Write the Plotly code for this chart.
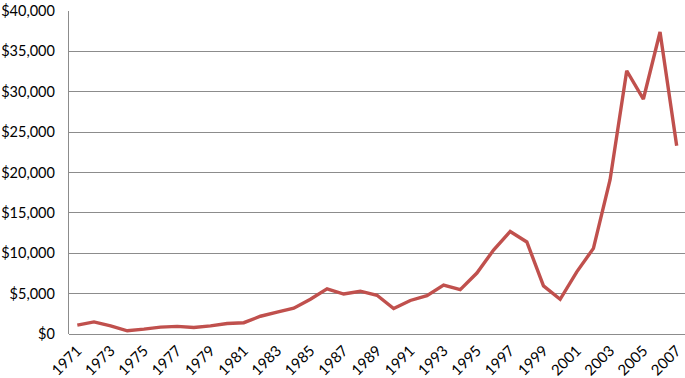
import plotly.graph_objects as go

years = list(range(1971, 2008))
values = [1100, 1500, 1000, 400, 600, 850, 950, 800, 1000, 1300,
          1400, 2200, 2700, 3200, 4300, 5600, 4950, 5300, 4800, 3150,
          4150, 4750, 6050, 5500, 7550, 10400, 12700, 11400, 5950, 4300,
          7700, 10600, 19100, 32600, 29100, 37400, 23300]
tick_years = [y for y in years if (y - 1971) % 2 == 0]
y_ticks = [0, 5000, 10000, 15000, 20000, 25000, 30000, 35000, 40000]
y_labels = ["$0", "$5,000", "$10,000", "$15,000", "$20,000", "$25,000", "$30,000", "$35,000", "$40,000"]

fig = go.Figure(go.Scatter(
    x=[str(y) for y in years], y=values, mode="lines",
    line=dict(color="#C0504D", width=3.4), hoverinfo="x+y"))

fig.update_layout(
    width=685, height=378,
    margin=dict(l=69, r=0, t=11, b=44, autoexpand=False),
    paper_bgcolor="white", plot_bgcolor="white",
    showlegend=False,
    font=dict(family="Lato, Carlito, Liberation Sans, sans-serif", size=14, color="#000000"),
)
fig.update_xaxes(
    type="category", range=[-0.5, len(years) - 0.5], automargin=False,
    tickmode="array", tickvals=[str(y) for y in tick_years], ticktext=[str(y) for y in tick_years],
    tickangle=-45, showgrid=False, showline=False, ticks="",
    ticklabelstandoff=4, tickfont=dict(size=15),
)
fig.update_yaxes(
    range=[0, 40000], automargin=False, tickmode="array", tickvals=y_ticks, ticktext=y_labels,
    showgrid=True, gridcolor="#8C8C8C", gridwidth=1.3,
    showline=True, linecolor="#8C8C8C", linewidth=1.3,
    zeroline=True, zerolinecolor="#8C8C8C", zerolinewidth=1.3,
    ticks="", ticklabelstandoff=10, tickfont=dict(size=14.5),
)

fig.write_html("out.html", config={"displayModeBar": False},
               post_script="document.body.style.margin='0';document.body.style.overflow='hidden';")
